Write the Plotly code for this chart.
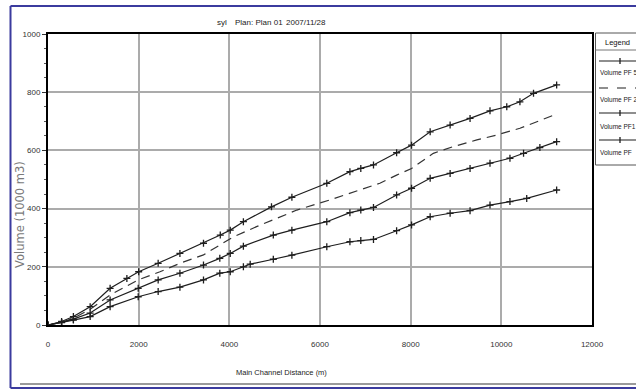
import plotly.graph_objects as go

# ---- data ----
pf5_x = [0, 300, 560, 930, 1370, 1740, 2000, 2430, 2910, 3430, 3800, 4020, 4310, 4930, 5380,
         6150, 6660, 6900, 7180, 7690, 8020, 8430, 8870, 9310, 9750, 10120, 10410, 10710, 11220]
pf5_y = [0, 12, 29, 63, 126, 160, 183, 212, 246, 281, 309, 326, 355, 406, 439,
         487, 527, 538, 550, 592, 618, 664, 687, 710, 736, 750, 767, 796, 825]

pf2_x = [0, 300, 560, 930, 1370, 1990, 2470, 2910, 3430, 3790, 4090, 4600, 5490, 6220, 6960,
         7320, 7690, 8020, 8500, 8940, 9460, 9900, 10410, 10780, 11220]
pf2_y = [0, 10, 23, 54, 103, 155, 183, 212, 241, 275, 303, 338, 395, 430, 470,
         487, 515, 538, 590, 613, 636, 653, 676, 699, 725]

pf1_x = [0, 300, 560, 930, 1370, 1990, 2430, 2910, 3430, 3790, 4020, 4310, 4970, 5380, 6150,
         6660, 6900, 7180, 7690, 8020, 8430, 8870, 9310, 9750, 10190, 10490, 10850, 11220]
pf1_y = [0, 9, 20, 41, 86, 126, 155, 178, 206, 229, 246, 271, 309, 326, 355,
         386, 395, 404, 447, 470, 504, 521, 538, 556, 573, 590, 610, 630]

pf_x = [0, 300, 560, 930, 1370, 1990, 2430, 2910, 3430, 3790, 4020, 4310, 4460, 4970, 5380,
        6150, 6660, 6900, 7180, 7690, 8020, 8430, 8870, 9310, 9750, 10190, 10560, 11220]
pf_y = [0, 8, 17, 29, 63, 97, 115, 130, 155, 178, 183, 200, 209, 226, 240,
        269, 286, 290, 294, 324, 344, 372, 384, 393, 412, 424, 435, 464]

legend_names = ["Volume PF 5", "Volume PF 2", "Volume PF1", "Volume PF"]
x_ticks = [0, 2000, 4000, 6000, 8000, 10000, 12000]
y_ticks = [0, 200, 400, 600, 800, 1000]

FONT = "Liberation Sans, Arial, sans-serif"
LINE = "#1e1e1e"

fig = go.Figure()
mk = dict(symbol="cross-thin", size=5, line=dict(width=1.3, color=LINE), color=LINE)
fig.add_trace(go.Scatter(x=pf5_x, y=pf5_y, mode="lines+markers", name=legend_names[0],
                         line=dict(color=LINE, width=1.2), marker=mk))
fig.add_trace(go.Scatter(x=pf2_x, y=pf2_y, mode="lines", name=legend_names[1],
                         line=dict(color="#333333", width=1.2, dash="9px,6px")))
fig.add_trace(go.Scatter(x=pf1_x, y=pf1_y, mode="lines+markers", name=legend_names[2],
                         line=dict(color=LINE, width=1.2), marker=mk))
fig.add_trace(go.Scatter(x=pf_x, y=pf_y, mode="lines+markers", name=legend_names[3],
                         line=dict(color=LINE, width=1.2), marker=mk))

# pixel -> paper helpers (plot area: x 48..592, y 34..325)
def px(xp):
    return (xp - 48) / 544.0

def py(yp):
    return (325 - yp) / 291.0

shapes = []
blue = "#3b3b9e"
shapes.append(dict(type="line", xref="paper", yref="paper", x0=px(10.5), x1=px(700), y0=py(6), y1=py(6),
                   line=dict(color=blue, width=2)))
shapes.append(dict(type="line", xref="paper", yref="paper", x0=px(10.5), x1=px(10.5), y0=py(6), y1=py(388),
                   line=dict(color=blue, width=2)))
shapes.append(dict(type="line", xref="paper", yref="paper", x0=px(10.5), x1=px(700), y0=py(388), y1=py(388),
                   line=dict(color=blue, width=2)))
shapes.append(dict(type="line", xref="paper", yref="paper", x0=px(20), x1=px(700), y0=py(384), y1=py(384),
                   line=dict(color="#9a9a9a", width=2)))
# legend box
shapes.append(dict(type="rect", xref="paper", yref="paper", x0=px(595.5), x1=px(700), y0=py(165), y1=py(33),
                   line=dict(color="#555555", width=1)))
shapes.append(dict(type="line", xref="paper", yref="paper", x0=px(595.5), x1=px(700), y0=py(50), y1=py(50),
                   line=dict(color="#777777", width=1)))

annotations = []
line_ys = [61, 88, 113, 140]
text_ys = [72, 100, 126, 152]
for i, name in enumerate(legend_names):
    dash = "dash" if i == 1 else "solid"
    shapes.append(dict(type="line", xref="paper", yref="paper", x0=px(599), x1=px(700),
                       y0=py(line_ys[i]), y1=py(line_ys[i]), line=dict(color=LINE, width=1.2, dash=dash)))
    if i != 1:
        shapes.append(dict(type="line", xref="paper", yref="paper", x0=px(620), x1=px(620),
                           y0=py(line_ys[i] - 3), y1=py(line_ys[i] + 3), line=dict(color=LINE, width=1.3)))
    annotations.append(dict(text=name, xref="paper", yref="paper", x=px(597.5), y=py(text_ys[i]),
                            xanchor="left", yanchor="middle", showarrow=False,
                            font=dict(family=FONT, size=6.5, color="#222222")))
annotations.append(dict(text="Legend", xref="paper", yref="paper", x=px(617), y=py(42),
                        xanchor="center", yanchor="middle", showarrow=False,
                        font=dict(family=FONT, size=7.5, color="#111111")))

# title pieces
for txt, xc in [("syl", 222), ("Plan: Plan 01", 259), ("2007/11/28", 306)]:
    annotations.append(dict(text=txt, xref="paper", yref="paper", x=px(xc), y=py(23),
                            xanchor="center", yanchor="middle", showarrow=False,
                            font=dict(family=FONT, size=8, color="#222222")))
# axis titles
annotations.append(dict(text="Main Channel Distance (m)", xref="paper", yref="paper", x=px(281), y=py(372),
                        xanchor="center", yanchor="middle", showarrow=False,
                        font=dict(family=FONT, size=7.5, color="#222222")))
annotations.append(dict(text="Volume (1000 m3)", xref="paper", yref="paper", x=px(20), y=py(215),
                        xanchor="center", yanchor="middle", showarrow=False, textangle=-90,
                        font=dict(family="DejaVu Sans, sans-serif", size=11.5, color="#7a7a7a")))

fig.update_layout(
    width=636, height=390,
    margin=dict(l=48, r=44, t=34, b=65),
    paper_bgcolor="white", plot_bgcolor="white",
    showlegend=False,
    shapes=shapes, annotations=annotations,
    font=dict(family=FONT, size=8, color="#333333"),
)
fig.update_xaxes(range=[0, 12000], tickvals=x_ticks, ticktext=[str(v) for v in x_ticks],
                 showgrid=True, gridcolor="#ababab", gridwidth=1.5, zeroline=False,
                 showline=True, linecolor="black", linewidth=2, mirror=True,
                 ticks="", ticklabelstandoff=10, tickfont=dict(family=FONT, size=8, color="#333333"))
fig.update_yaxes(range=[0, 1000], tickvals=y_ticks, ticktext=[str(v) for v in y_ticks],
                 showgrid=True, gridcolor="#ababab", gridwidth=1.5, zeroline=False,
                 showline=True, linecolor="black", linewidth=2, mirror=True,
                 ticks="outside", ticklen=4, tickcolor="#333333", tickwidth=1,
                 minor=dict(ticks="outside", ticklen=2, dtick=50, tickcolor="#555555", showgrid=False),
                 tickfont=dict(family=FONT, size=8, color="#333333"))

fig.write_html("out.html", config={"displayModeBar": False},
               post_script="document.body.style.margin='0';")
